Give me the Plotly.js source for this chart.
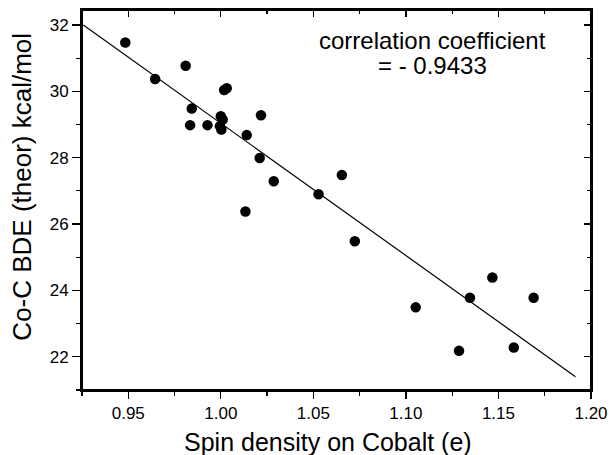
<!DOCTYPE html>
<html>
<head>
<meta charset="utf-8">
<script src="https://cdn.plot.ly/plotly-3.0.1.min.js"></script>
<style>html,body{margin:0;padding:0;background:#fff;}#chart{width:612px;height:455px;}</style>
</head>
<body>
<div id="chart"></div>
<script>
// Spin density on cobalt (e)
const spinDensity = [0.9484, 0.9645, 0.981, 0.9843, 0.9834, 0.9928, 1.0000, 1.0010, 0.9995, 1.0003,
  1.0018, 1.0032, 1.0217, 1.014, 1.021, 1.0286, 1.0133, 1.0528, 1.0654, 1.0724,
  1.1053, 1.1287, 1.1346, 1.1467, 1.1583, 1.169];
// Co-C BDE (theor) kcal/mol
const bde = [31.47, 30.37, 30.77, 29.48, 28.98, 28.98, 29.25, 29.15, 28.95, 28.85,
  30.04, 30.09, 29.28, 28.68, 27.99, 27.29, 26.38, 26.90, 27.48, 25.48,
  23.49, 22.18, 23.78, 24.39, 22.28, 23.78];
// Linear fit line endpoints
const fitX = [0.9257, 1.1916];
const fitY = [32.0, 21.4];

const xTickVals = [0.95, 1.00, 1.05, 1.10, 1.15, 1.20];
const xTickText = ['0.95', '1.00', '1.05', '1.10', '1.15', '1.20'];
const yTickVals = [22, 24, 26, 28, 30, 32];
const yTickText = ['22', '24', '26', '28', '30', '32'];
const annotationLines = ['correlation coefficient', '= - 0.9433'];
const xTitle = 'Spin density on Cobalt (e)';
const yTitle = 'Co-C BDE (theor) kcal/mol';

const xRange = [0.925, 1.20];
const yRange = [21.0, 32.45];

const font = 'Arial, "Liberation Sans", sans-serif';

const traces = [
  {x: fitX, y: fitY, xaxis: 'x2', yaxis: 'y2', mode: 'lines', line: {color: '#000', width: 1.2}, hoverinfo: 'skip', showlegend: false},
  {x: spinDensity, y: bde, mode: 'markers', marker: {color: '#000', size: 10.5}, showlegend: false}
];

const layout = {
  width: 612, height: 455,
  margin: {l: 82, r: 21, t: 10, b: 65},
  paper_bgcolor: '#fff', plot_bgcolor: 'rgba(0,0,0,0)',
  font: {family: font, color: '#000'},
  showlegend: false,
  xaxis: {
    domain: [0, 1], anchor: 'y',
    range: xRange, tickvals: xTickVals, ticktext: xTickText,
    ticks: 'outside', ticklen: 7, tickwidth: 1.2, tickcolor: '#000',
    minor: {ticks: 'outside', ticklen: 4, tickwidth: 1.2, tickcolor: '#000', dtick: 0.025, tick0: 0.925, showgrid: false},
    showline: true, mirror: true, linecolor: '#000', linewidth: 2, showgrid: false, zeroline: false,
    tickfont: {size: 17, family: font}
  },
  yaxis: {
    domain: [0, 1], anchor: 'x',
    range: yRange, tickvals: yTickVals, ticktext: yTickText,
    ticks: 'outside', ticklen: 8, tickwidth: 1.2, tickcolor: '#000',
    minor: {ticks: 'outside', ticklen: 4, tickwidth: 1.2, tickcolor: '#000', dtick: 1, tick0: 21, showgrid: false},
    showline: true, mirror: true, linecolor: '#000', linewidth: 2, showgrid: false, zeroline: false,
    tickfont: {size: 17, family: font}
  },
  xaxis2: {
    domain: [0, 1], anchor: 'y2', side: 'top',
    range: xRange, tickvals: xTickVals, showticklabels: false,
    ticks: 'inside', ticklen: 7, tickwidth: 1.2, tickcolor: '#000',
    minor: {ticks: 'inside', ticklen: 4, tickwidth: 1.2, tickcolor: '#000', dtick: 0.025, tick0: 0.925, showgrid: false},
    showline: false, showgrid: false, zeroline: false
  },
  yaxis2: {
    domain: [0, 1], anchor: 'x2', side: 'right',
    range: yRange, tickvals: yTickVals, showticklabels: false,
    ticks: 'inside', ticklen: 7, tickwidth: 1.2, tickcolor: '#000',
    minor: {ticks: 'inside', ticklen: 4, tickwidth: 1.2, tickcolor: '#000', dtick: 1, tick0: 21, showgrid: false},
    showline: false, showgrid: false, zeroline: false
  },
  shapes: [
    {type: 'rect', xref: 'paper', yref: 'paper', x0: 0, x1: 1, y0: 0, y1: 1,
     line: {color: '#000', width: 2}, fillcolor: 'rgba(0,0,0,0)', layer: 'above'}
  ],
  annotations: [
    {xref: 'paper', yref: 'paper', x: 0.688, y: 0.921, xanchor: 'center', yanchor: 'middle',
     text: annotationLines[0], showarrow: false, font: {size: 24, family: font, color: '#000'}},
    {xref: 'paper', yref: 'paper', x: 0.688, y: 0.853, xanchor: 'center', yanchor: 'middle',
     text: annotationLines[1], showarrow: false, font: {size: 24, family: font, color: '#000'}},
    {xref: 'paper', yref: 'paper', x: 0.483, y: -0.137, xanchor: 'center', yanchor: 'middle',
     text: xTitle, showarrow: false, font: {size: 25, family: font, color: '#000'}},
    {xref: 'paper', yref: 'paper', x: -0.118, y: 0.535, xanchor: 'center', yanchor: 'middle',
     text: yTitle, textangle: -90, showarrow: false, font: {size: 26, family: font, color: '#000'}}
  ]
};

Plotly.newPlot('chart', traces, layout, {displayModeBar: false, staticPlot: true});
</script>
</body>
</html>
